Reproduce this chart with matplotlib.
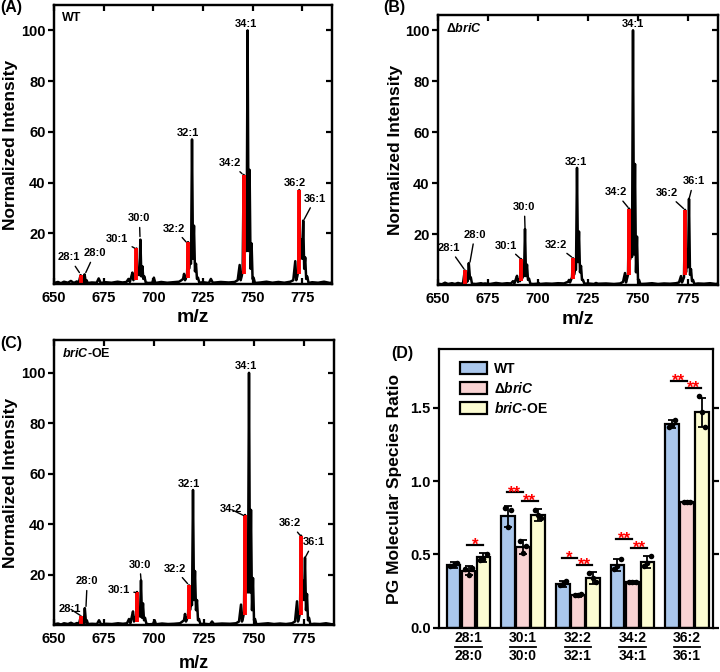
import numpy as np
import matplotlib
matplotlib.use("Agg")
import matplotlib.pyplot as plt
from matplotlib.patches import Patch

plt.rcParams['font.family'] = ['Liberation Sans', 'DejaVu Sans']
plt.rcParams['font.weight'] = 'bold'
plt.rcParams['axes.labelweight'] = 'bold'
plt.rcParams['mathtext.fontset'] = 'custom'
plt.rcParams['mathtext.rm'] = 'Liberation Sans:bold'
plt.rcParams['mathtext.it'] = 'Liberation Sans:italic:bold'
plt.rcParams['mathtext.bf'] = 'Liberation Sans:bold'

# ==================================================
# SPECTRA (profile points)
# ==================================================
mz = [
    650, 652, 653.5, 655, 657, 658.5, 660, 661.5, 662.5,
    663.4, 664.0, 664.4, 664.9, 665.4, 666.0, 666.4, 667.0,
    669, 671.5, 672.5, 673.5, 676, 679, 682, 684.5,
    686.5, 687.5, 688.2, 688.8, 689.5, 690.0, 690.5, 691.0,
    691.5, 692.0, 692.5, 693.0, 693.5, 694.0, 694.5, 695.0, 695.5, 696.2, 697.5,
    699.5, 700.3, 701, 704, 707, 710, 713, 714.2,
    715.0, 715.5, 716.0, 716.5, 717.0, 717.5, 718.0, 718.5, 719.0, 719.5, 720.0, 720.5, 721.0, 721.5, 722.0, 722.5,
    723.2, 725, 728, 729, 730, 734, 738,
    741, 742.5, 743.5, 744.0, 744.5, 745.0, 745.5, 746.0, 746.5, 747.0, 747.5, 748.0, 748.5, 749.0, 749.5, 750.0, 750.5, 751.2,
    754, 757, 760, 763, 766, 769,
    770.5, 771.5, 772.0, 772.5, 773.0, 773.5, 774.0, 774.5, 775.0, 775.5, 776.0, 776.5, 777.0, 777.5,
    778.2, 780, 783, 786, 789, 790,
]

int_wt = [
    0.4, 0.8, 0.3, 0.9, 0.5, 1.2, 0.4, 1.0, 0.6,
    3.5, 0.8, 1.3, 0.6, 3.8, 0.7, 1.5, 0.4,
    0.6, 0.5, 2.2, 0.4, 0.7, 0.5, 0.9, 0.6,
    0.8, 2.0, 0.8, 2.5, 4.5, 1.5, 3.0, 2.0,
    14.0, 3.5, 5.5, 3.5, 17.5, 3.0, 7.0, 2.0, 3.0, 0.6, 0.4,
    0.5, 2.5, 0.4, 0.8, 0.5, 0.7, 0.9, 1.5,
    2.0, 4.0, 1.5, 2.5, 3.5, 16.5, 6.0, 9.0, 8.0, 57.0, 10.0, 23.0, 5.0, 8.0, 2.0, 2.5,
    0.5, 0.7, 0.4, 2.0, 0.5, 0.8, 0.6,
    0.8, 1.5, 7.5, 1.5, 3.0, 5.0, 43.0, 13.0, 19.5, 13.0, 100.0, 13.0, 45.0, 6.0, 16.0, 2.0, 2.5, 0.4,
    0.6, 0.9, 0.5, 0.8, 0.5, 0.9,
    1.5, 9.0, 1.5, 3.0, 5.0, 37.0, 10.0, 17.5, 10.0, 25.0, 6.0, 10.5, 2.0, 3.0,
    0.4, 0.7, 0.5, 0.9, 0.4, 0.6,
]

int_ko = [
    0.5, 0.3, 0.9, 0.4, 0.7, 0.4, 0.8, 0.5, 0.7,
    5.7, 1.0, 1.5, 1.5, 8.6, 2.5, 3.0, 0.5,
    0.4, 0.7, 0.5, 0.6, 0.4, 0.8, 0.5, 0.7,
    0.6, 1.5, 0.6, 2.0, 3.6, 1.2, 2.0, 1.5,
    10.2, 2.5, 4.0, 3.5, 22.0, 3.5, 8.0, 2.0, 2.5, 0.5, 0.4,
    0.5, 0.8, 0.4, 0.6, 0.5, 0.7, 0.6, 1.0,
    1.2, 2.0, 1.0, 2.0, 3.0, 10.5, 4.0, 6.0, 6.0, 46.0, 9.0, 21.0, 5.0, 7.5, 2.0, 2.0,
    0.5, 0.6, 0.4, 0.8, 0.5, 0.6, 0.4,
    0.6, 1.2, 4.7, 1.0, 2.5, 4.0, 30.0, 10.0, 14.0, 11.0, 100.0, 12.0, 47.5, 5.0, 19.0, 2.0, 2.0, 0.4,
    0.5, 0.7, 0.4, 0.6, 0.5, 0.7,
    1.0, 3.5, 1.0, 2.0, 3.0, 29.5, 5.0, 13.8, 7.0, 33.8, 4.0, 6.2, 1.5, 2.0,
    0.4, 0.6, 0.5, 0.7, 0.4, 0.6,
]

int_oe = [
    0.4, 0.7, 0.3, 0.8, 0.5, 1.0, 0.4, 0.9, 0.6,
    3.5, 0.8, 1.2, 0.8, 6.8, 1.0, 2.0, 0.5,
    0.6, 0.5, 2.0, 0.4, 0.6, 0.5, 0.8, 0.6,
    0.8, 2.5, 0.8, 3.0, 5.5, 1.5, 3.0, 2.0,
    13.2, 3.5, 5.5, 3.5, 17.8, 3.0, 8.7, 2.0, 3.0, 0.6, 0.4,
    0.5, 2.0, 0.4, 0.7, 0.5, 0.6, 0.8, 1.5,
    2.0, 4.5, 1.5, 2.5, 3.5, 15.8, 6.0, 9.0, 8.0, 53.6, 10.0, 21.5, 6.0, 10.0, 2.0, 2.5,
    0.5, 0.6, 0.4, 1.5, 0.5, 0.7, 0.6,
    0.8, 1.5, 8.2, 1.5, 3.0, 5.0, 43.7, 13.0, 19.3, 13.0, 100.0, 13.0, 45.7, 6.0, 18.7, 2.0, 2.5, 0.4,
    0.6, 0.8, 0.5, 0.7, 0.5, 0.8,
    1.5, 9.5, 1.5, 3.0, 5.0, 35.5, 10.0, 17.6, 10.0, 26.8, 6.0, 12.4, 2.0, 3.0,
    0.4, 0.6, 0.5, 0.8, 0.4, 0.5,
]

# unsaturated species highlighted in red
red_mz = [663.4, 691.5, 717.5, 745.5, 773.5]
red_base = [0.5, 1.5, 2.5, 4.0, 4.0]
red_wt = [3.5, 14.0, 16.5, 43.0, 37.0]
red_ko = [5.7, 10.2, 10.5, 30.0, 29.5]
red_oe = [3.5, 13.2, 15.8, 43.7, 35.5]

# peak labels: text position (x, y) and leader tip (x, y) or None
peak_names = ["28:1", "28:0", "30:1", "30:0", "32:2", "32:1", "34:2", "34:1", "36:2", "36:1"]
lab_wt = [(657.7, 10.5, (662.8, 4.5)), (670.5, 12.1, (666.0, 4.5)),
          (681.7, 17.9, (690.5, 14.2)), (693.0, 25.9, (693.3, 18.7)),
          (710.6, 21.8, (716.5, 16.6)), (717.5, 59.5, None),
          (738.8, 47.7, (744.7, 43.5)), (746.5, 102.6, None),
          (771.5, 39.8, None), (781.5, 33.6, (776.0, 25.5))]
lab_ko = [(655.6, 14.5, (663.0, 6.3)), (668.4, 19.7, (666.0, 9.0)),
          (684.0, 15.5, (691.0, 10.5)), (693.2, 30.6, (693.5, 22.5)),
          (708.8, 15.8, (716.8, 11.0)), (719.0, 48.2, None),
          (738.8, 36.4, (745.0, 30.5)), (747.5, 102.4, None),
          (764.3, 36.1, (772.8, 30.0)), (777.8, 40.7, (775.6, 34.0))]
lab_oe = [(657.9, 6.6, (663.0, 4.0)), (666.6, 17.4, (666.0, 7.5)),
          (682.3, 14.0, (690.8, 13.0)), (692.9, 24.0, (693.5, 18.0)),
          (710.3, 22.4, (716.8, 16.5)), (717.7, 56.0, None),
          (738.3, 46.0, (744.8, 43.5)), (746.2, 102.6, None),
          (768.0, 40.4, (773.0, 35.7)), (779.7, 32.9, (775.7, 27.0))]

# ==================================================
# RATIO BAR DATA
# ==================================================
ratio_num = ["28:1", "30:1", "32:2", "34:2", "36:2"]
ratio_den = ["28:0", "30:0", "32:1", "34:1", "36:1"]
strains = ["WT", r"$\Delta\mathit{briC}$", r"$\mathit{briC}$-OE"]
bar_colors = ["#aac7ec", "#f9d3d3", "#fcfcd2"]

mean_wt = [0.43, 0.76, 0.30, 0.43, 1.39]
mean_ko = [0.39, 0.55, 0.22, 0.31, 0.86]
mean_oe = [0.48, 0.77, 0.34, 0.45, 1.47]
sd_wt = [0.02, 0.07, 0.02, 0.04, 0.03]
sd_ko = [0.03, 0.05, 0.01, 0.01, 0.005]
sd_oe = [0.03, 0.04, 0.04, 0.04, 0.10]
pts_wt = [[0.42, 0.44, 0.43], [0.82, 0.80, 0.69], [0.29, 0.32, 0.30], [0.40, 0.47, 0.42], [1.37, 1.42, 1.38]]
pts_ko = [[0.40, 0.41, 0.36], [0.59, 0.56, 0.51], [0.22, 0.23, 0.22], [0.31, 0.31, 0.31], [0.86, 0.86, 0.86]]
pts_oe = [[0.46, 0.50, 0.47], [0.80, 0.75, 0.77], [0.37, 0.31, 0.34], [0.42, 0.49, 0.44], [1.58, 1.37, 1.47]]

# significance: (group, bar_a, bar_b, height, stars)
sig = [(0, 1, 2, 0.565, "*"),
       (1, 0, 1, 0.923, "**"), (1, 1, 2, 0.866, "**"),
       (2, 0, 1, 0.479, "*"), (2, 1, 2, 0.426, "**"),
       (3, 0, 1, 0.604, "**"), (3, 1, 2, 0.547, "**"),
       (4, 0, 1, 1.687, "**"), (4, 1, 2, 1.634, "**")]

# ==================================================
# FIGURE
# ==================================================
fig = plt.figure(figsize=(7.2, 6.72), dpi=100)

SPW = 1.6
BF = "bold"


def bold_ticks(ax):
    for lab in ax.get_xticklabels() + ax.get_yticklabels():
        lab.set_fontweight(BF)


def spectrum(rect, inten, red_h, labs, tag, ytop, yl_x, xl_y, xl_size):
    ax = fig.add_axes(rect)
    ax.plot(mz, inten, color="k", lw=1.8, zorder=2)
    ax.vlines(red_mz, red_base, red_h, color="red", lw=2.8, zorder=3)
    for name, (tx, ty, tip) in zip(peak_names, labs):
        if tip is None:
            ax.text(tx, ty, name, ha="center", va="center", fontsize=8,
                    fontweight=BF, zorder=5)
        else:
            ax.annotate(name, xy=tip, xytext=(tx, ty), ha="center", va="center",
                        fontsize=8, fontweight=BF, zorder=5,
                        arrowprops=dict(arrowstyle="-", lw=1.0, color="k",
                                        shrinkA=1, shrinkB=0))
    ax.set_xlim(650, 790)
    ax.set_ylim(0, ytop)
    ax.set_xticks([650, 675, 700, 725, 750, 775])
    ax.set_yticks([20, 40, 60, 80, 100])
    ax.tick_params(axis="x", direction="in", top=True, length=4, width=SPW,
                   labelsize=10.5, pad=5)
    ax.tick_params(axis="y", direction="out", length=4, width=SPW,
                   labelsize=10.5, pad=2)
    bold_ticks(ax)
    for s in ax.spines.values():
        s.set_linewidth(SPW)
    rt = ax.twinx()
    rt.set_ylim(0, ytop)
    rt.set_yticks([20, 40, 60, 80, 100])
    rt.tick_params(direction="in", length=4, width=SPW, labelright=False)
    for s in rt.spines.values():
        s.set_linewidth(SPW)
    ax.set_ylabel("Normalized Intensity", fontsize=12.5, fontweight=BF)
    ax.yaxis.set_label_coords(yl_x, 0.5)
    ax.set_xlabel("m/z", fontsize=xl_size, fontweight=BF)
    ax.xaxis.set_label_coords(0.5, xl_y)
    ax.text(0.03, 0.975, tag, transform=ax.transAxes, ha="left", va="top",
            fontsize=9, fontweight=BF)
    return ax


spectrum([54 / 720, 388 / 672, 278 / 720, 279 / 672], int_wt, red_wt, lab_wt,
         "WT", 110, -0.13, -0.09, 14)
spectrum([438 / 720, 387 / 672, 280 / 720, 270 / 672], int_ko, red_ko, lab_ko,
         r"$\Delta\mathit{briC}$", 106, -0.125, -0.095, 14)
spectrum([54 / 720, 46.7 / 672, 280 / 720, 285.3 / 672], int_oe, red_oe, lab_oe,
         r"$\mathit{briC}$-OE", 113, -0.13, -0.105, 13)

# ---- panel D ----
axd = fig.add_axes([439 / 720, 44.3 / 672, 274.3 / 720, 278.4 / 672])
x = np.arange(len(ratio_num))
bw = 0.25
step = 0.274
means = [mean_wt, mean_ko, mean_oe]
sds = [sd_wt, sd_ko, sd_oe]
pts = [pts_wt, pts_ko, pts_oe]
dot_dx = [-0.06, 0.06, 0.0]
handles = []
for k in range(3):
    xs = x + (k - 1) * step
    axd.bar(xs, means[k], width=bw, color=bar_colors[k], edgecolor="k",
            linewidth=1.6, zorder=2)
    axd.errorbar(xs, means[k], yerr=sds[k], fmt="none", ecolor="k",
                 elinewidth=1.3, capsize=3, capthick=1.3, zorder=3)
    for g in range(len(x)):
        axd.scatter(xs[g] + np.array(dot_dx), pts[k][g], s=16, color="k",
                    zorder=4, linewidths=0)
    handles.append(Patch(facecolor=bar_colors[k], edgecolor="k", linewidth=1.6,
                         label=strains[k]))

for g, a, b, h, stars in sig:
    xa = g + (a - 1) * step - 0.02
    xb = g + (b - 1) * step - 0.01
    axd.plot([xa, xb], [h, h], color="k", lw=1.6, zorder=3)
    axd.annotate(stars, xy=((xa + xb) / 2, h), xytext=(0, -3.5),
                 textcoords="offset points", ha="center", va="baseline",
                 color="red", fontsize=12, fontweight=BF, zorder=5)

axd.set_xlim(-0.54, 4.48)
axd.set_ylim(0, 1.9)
axd.set_yticks([0.0, 0.5, 1.0, 1.5])
axd.set_yticklabels(["0.0", "0.5", "1.0", "1.5"])
axd.set_xticks([])
axd.tick_params(axis="y", direction="out", left=True, right=True, length=4,
                width=SPW, labelsize=10.5, pad=2)
bold_ticks(axd)
for s in axd.spines.values():
    s.set_linewidth(SPW)
axd.set_ylabel("PG Molecular Species Ratio", fontsize=12.5, fontweight=BF)
axd.yaxis.set_label_coords(-0.135, 0.5)

trans = axd.get_xaxis_transform()
for g in range(len(x)):
    axd.text(g, -0.036, ratio_num[g], transform=trans, ha="center", va="center",
             fontsize=10, fontweight=BF)
    axd.plot([g - 0.24, g + 0.24], [-0.069, -0.069], transform=trans,
             color="k", lw=1.3, clip_on=False)
    axd.text(g, -0.102, ratio_den[g], transform=trans, ha="center", va="center",
             fontsize=10, fontweight=BF)

axd.legend(handles=handles, loc="upper left", bbox_to_anchor=(0.04, 0.99),
           frameon=False, prop={"size": 10, "weight": "bold"},
           handlelength=2.0, handleheight=0.9,
           labelspacing=0.35, borderpad=0.2, handletextpad=0.5)

# panel letters
fig.text(0.0, 1.0, "(A)", ha="left", va="top", fontsize=11.5, fontweight=BF)
fig.text(383 / 720, 1.0, "(B)", ha="left", va="top", fontsize=11.5, fontweight=BF)
fig.text(0.0, 336 / 672, "(C)", ha="left", va="top", fontsize=11.5, fontweight=BF)
fig.text(391 / 720, 326 / 672, "(D)", ha="left", va="top", fontsize=11.5,
         fontweight=BF)

fig.savefig("out.png", dpi=100)
